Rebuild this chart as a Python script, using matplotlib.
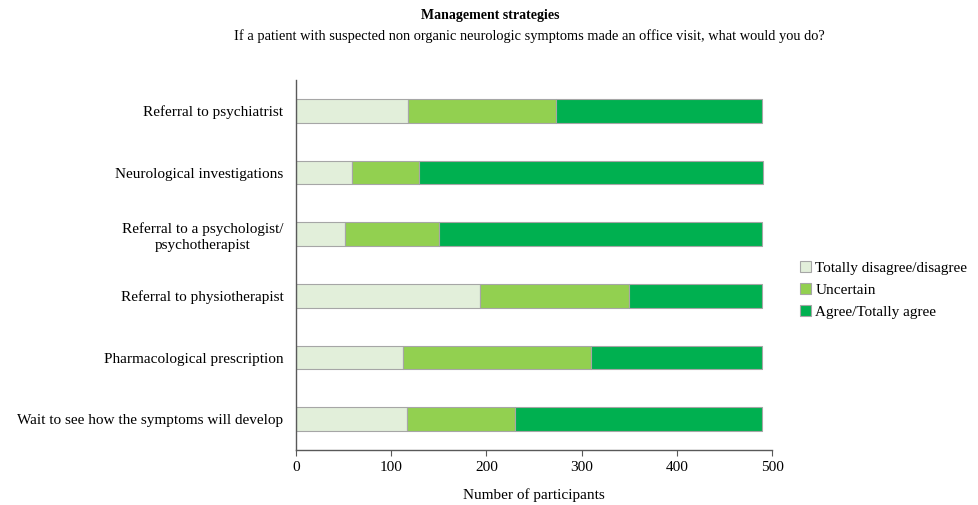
import matplotlib
matplotlib.use("Agg")
import matplotlib.pyplot as plt
import numpy as np

plt.rcParams["font.family"] = ["Liberation Serif", "DejaVu Serif"]

# Categories, top to bottom as shown
categories = [
    "Referral to psychiatrist",
    "Neurological investigations",
    "Referral to a psychologist/\npsychotherapist",
    "Referral to physiotherapist",
    "Pharmacological prescription",
    "Wait to see how the symptoms will develop",
]
disagree = [118, 59, 51, 193, 112, 117]
uncertain = [155, 70, 99, 157, 198, 113]
agree = [217, 362, 340, 140, 180, 260]

series_labels = ["Totally disagree/disagree", "Uncertain", "Agree/Totally agree"]
colors = ["#E2EFDA", "#92D050", "#00B050"]

fig = plt.figure(figsize=(9.79, 5.05), dpi=100)
ax = fig.add_axes([296 / 979, 1 - 450 / 505, 476 / 979, 370 / 505])

y = np.arange(len(categories))
left = np.zeros(len(categories))
for vals, lab, col in zip([disagree, uncertain, agree], series_labels, colors):
    ax.barh(y, vals, left=left, height=0.38, color=col, edgecolor="#a6a6a6",
            linewidth=0.8, label=lab)
    left += np.array(vals)

ax.set_yticks(y)
ax.set_yticklabels(categories, fontsize=11, multialignment="center",
                   linespacing=1.25)
ax.set_ylim(len(categories) - 0.5, -0.5)
ax.set_xlim(0, 500)
ax.set_xticks([0, 100, 200, 300, 400, 500])
ax.tick_params(axis="x", labelsize=11, length=4, color="#595959", pad=4)
ax.tick_params(axis="y", length=0, pad=9)
for s in ["top", "right"]:
    ax.spines[s].set_visible(False)
for s in ["left", "bottom"]:
    ax.spines[s].set_color("#595959")
    ax.spines[s].set_linewidth(1.0)

ax.set_xlabel("Number of participants", fontsize=11, labelpad=10)

ax.legend(loc="center left", bbox_to_anchor=(1.03, 0.432), frameon=False,
          fontsize=11, handlelength=0.7, handleheight=0.7, handletextpad=0.3,
          labelspacing=0.55)

fig.text(490 / 979, 1 - 16 / 505, "Management strategies", ha="center",
         va="center", fontsize=10, fontweight="bold")
fig.text(529 / 979, 1 - 36 / 505,
         "If a patient with suspected non organic neurologic symptoms made an office visit, what would you do?",
         ha="center", va="center", fontsize=10.4)

fig.savefig("out.png", dpi=100)
